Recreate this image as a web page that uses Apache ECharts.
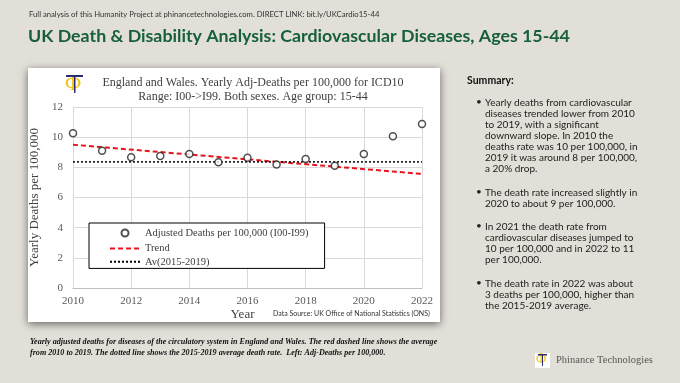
<!DOCTYPE html>
<html>
<head>
<meta charset="utf-8">
<script src="https://cdn.jsdelivr.net/npm/echarts@6/dist/echarts.min.js"></script>
<style>
html,body{margin:0;padding:0;background:#e2dfd8;}
#chart{width:680px;height:383px;}
</style>
</head>
<body>
<div id="chart"></div>
<script>
// ---- data ----
const years = [2010, 2011, 2012, 2013, 2014, 2015, 2016, 2017, 2018, 2019, 2020, 2021, 2022];
const adjDeaths = [10.26, 9.10, 8.67, 8.75, 8.89, 8.33, 8.64, 8.18, 8.55, 8.11, 8.89, 10.06, 10.87];
const trendYears = [2010, 2022];
const trendValues = [9.50, 7.56];
const avgYears = [2010, 2022];
const avgValues = [8.36, 8.36];

const seriesNames = ['Adjusted Deaths per 100,000 (I00-I99)', 'Trend', 'Av(2015-2019)'];
const headerText = 'Full analysis of this Humanity Project at phinancetechnologies.com. DIRECT LINK: bit.ly/UKCardio15-44';
const mainTitle = 'UK Death & Disability Analysis: Cardiovascular Diseases, Ages 15-44';
const chartTitle = 'England and Wales. Yearly Adj-Deaths per 100,000 for ICD10\nRange: I00->I99. Both sexes. Age group: 15-44';
const yAxisName = 'Yearly Deaths per 100,000';
const xAxisName = 'Year';
const sourceText = 'Data Source: UK Office of National Statistics (ONS)';
const summaryTitle = 'Summary:';
const summaryBullets = [
  'Yearly deaths from cardiovascular\ndiseases trended lower from 2010\nto 2019, with a significant\ndownward slope. In 2010 the\ndeaths rate was 10 per 100,000, in\n2019 it was around 8 per 100,000,\na 20% drop.',
  'The death rate increased slightly in\n2020 to about 9 per 100,000.',
  'In 2021 the death rate from\ncardiovascular diseases jumped to\n10 per 100,000 and in 2022 to 11\nper 100,000.',
  'The death rate in 2022 was about\n3 deaths per 100,000, higher than\nthe 2015-2019 average.'
];
const bulletTops = [97, 187, 221, 278];
const footerText = 'Yearly adjusted deaths for diseases of the circulatory system in England and Wales. The red dashed line shows the average\nfrom 2010 to 2019. The dotted line shows the 2015-2019 average death rate.  Left: Adj-Deaths per 100,000.';
const brandText = 'Phinance Technologies';

const serif = '"Liberation Serif", "DejaVu Serif", serif';
const sans = 'Lato, "Noto Sans", sans-serif';

const chart = echarts.init(document.getElementById('chart'));

const graphics = [
  { type: 'rect', z: -10, shape: { x: 28, y: 68, width: 412, height: 254 },
    style: { fill: '#ffffff', shadowBlur: 8, shadowColor: 'rgba(0,0,0,0.55)', shadowOffsetY: 2 } },
  { type: 'text', left: 29, top: 11, style: { text: headerText, font: '7.7px ' + sans, fill: '#333' } },
  { type: 'text', left: 28, top: 27, style: { text: mainTitle, font: 'bold 17.8px ' + sans, fill: '#17603a' } },
  // logo inside chart
  { type: 'text', left: 65, top: 73, style: { text: 'Φ', font: '22px ' + serif, fill: '#f0c419' } },
  { type: 'rect', shape: { x: 66, y: 75, width: 17, height: 2 }, style: { fill: '#2b2d6e' } },
  { type: 'rect', shape: { x: 74, y: 75, width: 1.5, height: 18 }, style: { fill: '#2b2d6e' } },
  { type: 'text', left: 273, top: 310, style: { text: sourceText, font: '7px ' + sans, fill: '#333' } },
  { type: 'text', left: 467, top: 75, style: { text: summaryTitle, font: 'bold 10.5px ' + sans, fill: '#111' } },
  { type: 'text', left: 30, top: 337, style: { text: footerText, font: 'italic bold 8.1px ' + serif, fill: '#111', lineHeight: 10.5 } },
  { type: 'rect', shape: { x: 535, y: 353, width: 15, height: 15 }, style: { fill: '#ffffff' } },
  { type: 'text', left: 536, top: 352, style: { text: 'Φ', font: '14px ' + serif, fill: '#f0c419' } },
  { type: 'rect', shape: { x: 538, y: 354, width: 9, height: 1.5 }, style: { fill: '#2b2d6e' } },
  { type: 'rect', shape: { x: 542, y: 354, width: 1, height: 12 }, style: { fill: '#2b2d6e' } },
  { type: 'text', left: 556, top: 355, style: { text: brandText, font: '10.5px ' + serif, fill: '#555' } }
];
summaryBullets.forEach((b, i) => {
  graphics.push({ type: 'text', left: 476, top: bulletTops[i], style: { text: '•', font: '10px ' + sans, fill: '#222' } });
  graphics.push({ type: 'text', left: 485, top: bulletTops[i], style: { text: b, font: '10px ' + sans, fill: '#222', lineHeight: 11.1 } });
});

const option = {
  backgroundColor: '#e2dfd8',
  animation: false,
  title: {
    text: chartTitle, left: 248, top: 71, textAlign: 'center',
    textStyle: { fontFamily: serif, fontSize: 12, fontWeight: 'normal', color: '#404040', lineHeight: 14 }
  },
  legend: {
    orient: 'vertical', left: 89, top: 223,
    padding: [2, 16, 1, 20], itemGap: 2, itemWidth: 30, itemHeight: 14,
    backgroundColor: '#ffffff', borderColor: '#000', borderWidth: 1, borderRadius: 0,
    textStyle: { fontFamily: serif, fontSize: 10.5, color: '#404040' },
    data: [
      { name: seriesNames[0], icon: 'path://M0,0 M30,14 M18.5,7 A3.5,3.5 0 1 1 11.5,7 A3.5,3.5 0 1 1 18.5,7 Z' },
      { name: seriesNames[1], itemStyle: { opacity: 0 } },
      { name: seriesNames[2], itemStyle: { opacity: 0 } }
    ]
  },
  grid: { left: 73, right: 258, top: 107, bottom: 95 },
  xAxis: {
    type: 'value', min: 2010, max: 2022, interval: 2,
    name: xAxisName, nameLocation: 'middle', nameGap: 18,
    nameTextStyle: { fontFamily: serif, fontSize: 13, color: '#404040', padding: [0, 10, 0, 0] },
    axisLine: { lineStyle: { color: '#bfbfbf' } }, axisTick: { show: false },
    axisLabel: { fontFamily: serif, fontSize: 11, color: '#595959', margin: 8, formatter: v => String(v) },
    splitLine: { show: true, lineStyle: { color: '#d9d9d9' } }
  },
  yAxis: {
    type: 'value', min: 0, max: 12, interval: 2,
    name: yAxisName, nameLocation: 'middle', nameGap: 24,
    nameTextStyle: { fontFamily: serif, fontSize: 13, color: '#404040' },
    axisLine: { show: true, lineStyle: { color: '#d9d9d9' } }, axisTick: { show: false },
    axisLabel: { fontFamily: serif, fontSize: 11, color: '#595959', margin: 10 },
    splitLine: { show: true, lineStyle: { color: '#d9d9d9' } }
  },
  series: [
    {
      name: seriesNames[0], type: 'scatter', z: 5,
      symbol: 'circle', symbolSize: 7,
      itemStyle: { color: '#ffffff', borderColor: '#262626', borderWidth: 1.5 },
      data: years.map((y, i) => [y, adjDeaths[i]])
    },
    {
      name: seriesNames[1], type: 'line', showSymbol: false, symbol: 'none',
      lineStyle: { color: '#e8141c', width: 2, type: [5, 3] },
      itemStyle: { color: '#e8141c' },
      data: trendYears.map((y, i) => [y, trendValues[i]])
    },
    {
      name: seriesNames[2], type: 'line', showSymbol: false, symbol: 'none',
      lineStyle: { color: '#000000', width: 1.5, type: [2, 2] },
      itemStyle: { color: '#000000' },
      data: avgYears.map((y, i) => [y, avgValues[i]])
    }
  ],
  graphic: graphics
};
chart.setOption(option);
</script>
</body>
</html>
